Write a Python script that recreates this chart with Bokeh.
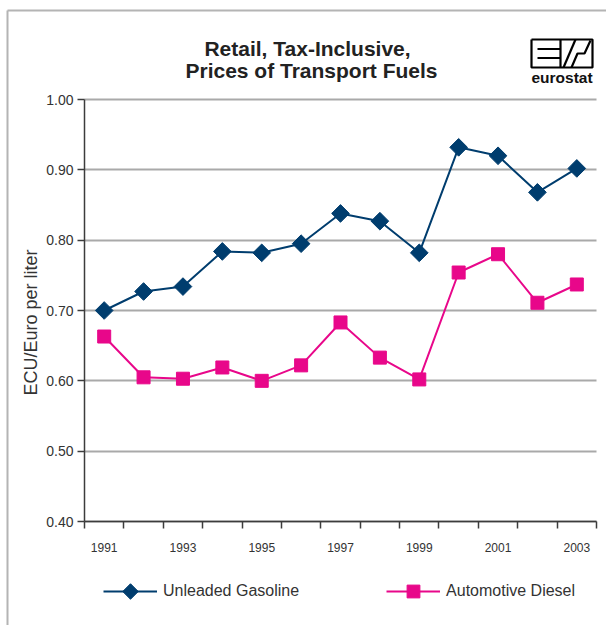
import numpy as np
from bokeh.plotting import figure
from bokeh.models import (Range1d, FixedTicker, Legend, LegendItem, Grid,
                          CustomJSTickFormatter)
from bokeh.core.properties import value
from bokeh.embed import file_html
from bokeh.resources import INLINE

years = [1991, 1992, 1993, 1994, 1995, 1996, 1997, 1998, 1999, 2000, 2001, 2002, 2003]
gasoline = [0.700, 0.727, 0.734, 0.784, 0.782, 0.795, 0.838, 0.827, 0.782, 0.932, 0.920, 0.868, 0.902]
diesel = [0.663, 0.605, 0.603, 0.619, 0.600, 0.622, 0.683, 0.633, 0.602, 0.754, 0.780, 0.711, 0.737]
y_ticks = [0.40, 0.50, 0.60, 0.70, 0.80, 0.90, 1.00]
x_label_years = [1991, 1993, 1995, 1997, 1999, 2001, 2003]
title_lines = ["Retail, Tax-Inclusive,", "Prices of Transport Fuels"]
y_title = "ECU/Euro per liter"
series_names = ["Unleaded Gasoline", "Automotive Diesel"]
brand = "eurostat"

FONT = "Liberation Sans"
NAVY = "#003d6e"
PINK = "#e8078a"
GRID = "#a9a9a9"
AXIS = "#3c3c3c"
TXT = "#333333"
FRAME = "#b4b4b4"

# canvas and plot-area geometry (pixels)
W, H = 606, 625
AX_L, AX_R, AX_T, AX_B = 84, 596, 99, 521

xa, xb = years[0] - 0.5, years[-1] + 0.5
ya, yb = y_ticks[0], y_ticks[-1]
ppx = (AX_R - AX_L) / (xb - xa)
ppy = (AX_B - AX_T) / (yb - ya)

p = figure(width=W, height=H, output_backend="svg", toolbar_location=None,
           x_range=Range1d(xa - AX_L / ppx, xb + (W - AX_R) / ppx),
           y_range=Range1d(ya - (H - AX_B) / ppy, yb + AX_T / ppy),
           min_border=0, min_border_left=0, min_border_right=0,
           min_border_top=0, min_border_bottom=0)
p.extra_x_ranges = {"px": Range1d(0, W)}
p.extra_y_ranges = {"px": Range1d(0, H)}
p.outline_line_color = None
p.background_fill_color = "white"
p.border_fill_color = "white"

def py(page_y):
    return H - page_y

# grid
p.xgrid.visible = False
p.ygrid.ticker = FixedTicker(ticks=y_ticks)
p.ygrid.grid_line_color = GRID
p.ygrid.grid_line_width = 2
if "cross_bounds" in Grid.properties():
    p.ygrid.cross_bounds = (xa, xb)
else:
    p.ygrid.visible = False
    p.segment(x0=[xa] * len(y_ticks), x1=[xb] * len(y_ticks), y0=y_ticks, y1=y_ticks,
              line_color=GRID, line_width=2)

# y axis
p.yaxis.fixed_location = xa
p.yaxis.bounds = (ya, yb)
p.yaxis.ticker = FixedTicker(ticks=y_ticks)
p.yaxis.formatter = CustomJSTickFormatter(code="return tick.toFixed(2);")
p.yaxis.axis_line_color = AXIS
p.yaxis.axis_line_width = 1.5
p.yaxis.major_tick_line_color = AXIS
p.yaxis.major_tick_line_width = 1.5
p.yaxis.major_tick_out = 7
p.yaxis.major_tick_in = 0
p.yaxis.minor_tick_line_color = None
p.yaxis.major_label_standoff = 4
p.yaxis.major_label_text_font = FONT
p.yaxis.major_label_text_font_size = "14px"
p.yaxis.major_label_text_color = TXT

# x axis: category-boundary ticks as minor ticks, labels on odd years
boundaries = [y - 0.5 for y in years] + [years[-1] + 0.5]
p.xaxis.fixed_location = ya
p.xaxis.bounds = (xa, xb)
p.xaxis.ticker = FixedTicker(ticks=x_label_years, minor_ticks=boundaries)
p.xaxis.axis_line_color = AXIS
p.xaxis.axis_line_width = 1.5
p.xaxis.major_tick_line_color = None
p.xaxis.major_tick_out = 0
p.xaxis.major_tick_in = 0
p.xaxis.minor_tick_line_color = AXIS
p.xaxis.minor_tick_line_width = 1.5
p.xaxis.minor_tick_out = 7
p.xaxis.minor_tick_in = 0
p.xaxis.major_label_standoff = 14
p.xaxis.major_label_text_font = FONT
p.xaxis.major_label_text_font_size = "12px"
p.xaxis.major_label_text_color = TXT

# series
gl = p.line(years, gasoline, line_color=NAVY, line_width=2)
gm = p.scatter(years, gasoline, marker="square", angle=np.pi / 4, size=12.5,
               fill_color=NAVY, line_color=NAVY)
dl = p.line(years, diesel, line_color=PINK, line_width=2)
dm = p.scatter(years, diesel, marker="square", size=13, fill_color=PINK, line_color=PINK)

PX = dict(x_range_name="px", y_range_name="px")

LEG_X, LEG_Y, GLYPH_W, GLYPH_H = 103, 591, 54, 32
legend = Legend(items=[LegendItem(label=series_names[0], renderers=[gl]),
                       LegendItem(label=series_names[1], renderers=[dl, dm])],
                orientation="horizontal", location=(LEG_X, H - LEG_Y - GLYPH_H / 2),
                glyph_width=GLYPH_W, glyph_height=GLYPH_H, label_standoff=6, spacing=87,
                padding=0, margin=0, border_line_color=None, background_fill_alpha=0,
                label_text_font=FONT, label_text_font_size="16px", label_text_color=TXT)
p.add_layout(legend, "center")
# diamond symbol of the first legend entry (legend markers are drawn unrotated)
p.scatter(x=[LEG_X + GLYPH_W / 2], y=[py(LEG_Y)], marker="square", angle=np.pi / 4,
          size=11, fill_color=NAVY, line_color=NAVY, **PX)

# y-axis title
p.text(x=[30], y=[py(322)], text=[y_title], angle=np.pi / 2, text_align="center",
       text_baseline="middle", text_font=value(FONT), text_font_size=value("18px"),
       text_color=TXT, **PX)

# chart title
p.text(x=[307, 311], y=[py(48), py(70)], text=title_lines, text_align="center",
       text_baseline="middle", text_font=value(FONT), text_font_size=value("21px"),
       text_font_style="bold", text_color="#222222", **PX)

# outer frame (top and left edges)
p.multi_line(xs=[[7, W], [7, 7]], ys=[[py(10), py(10)], [py(10), 0]],
             line_color=FRAME, line_width=2, **PX)

# eurostat logo
p.multi_line(
    xs=[[531, 592, 592, 531, 531], [537, 560], [537, 560], [560, 560],
        [563, 575], [571, 577, 584, 590]],
    ys=[[py(39), py(39), py(67), py(67), py(39)], [py(48.5), py(48.5)], [py(57.5), py(57.5)],
        [py(39), py(67)], [py(67), py(39)], [py(67), py(53), py(53), py(40)]],
    line_color="black", line_width=2.2, **PX)
p.text(x=[561.5], y=[py(77)], text=[brand], text_align="center", text_baseline="middle",
       text_font=value(FONT), text_font_size=value("15.5px"), text_font_style="bold",
       text_color="#111111", **PX)

open("out.html", "w").write(file_html(p, INLINE))
